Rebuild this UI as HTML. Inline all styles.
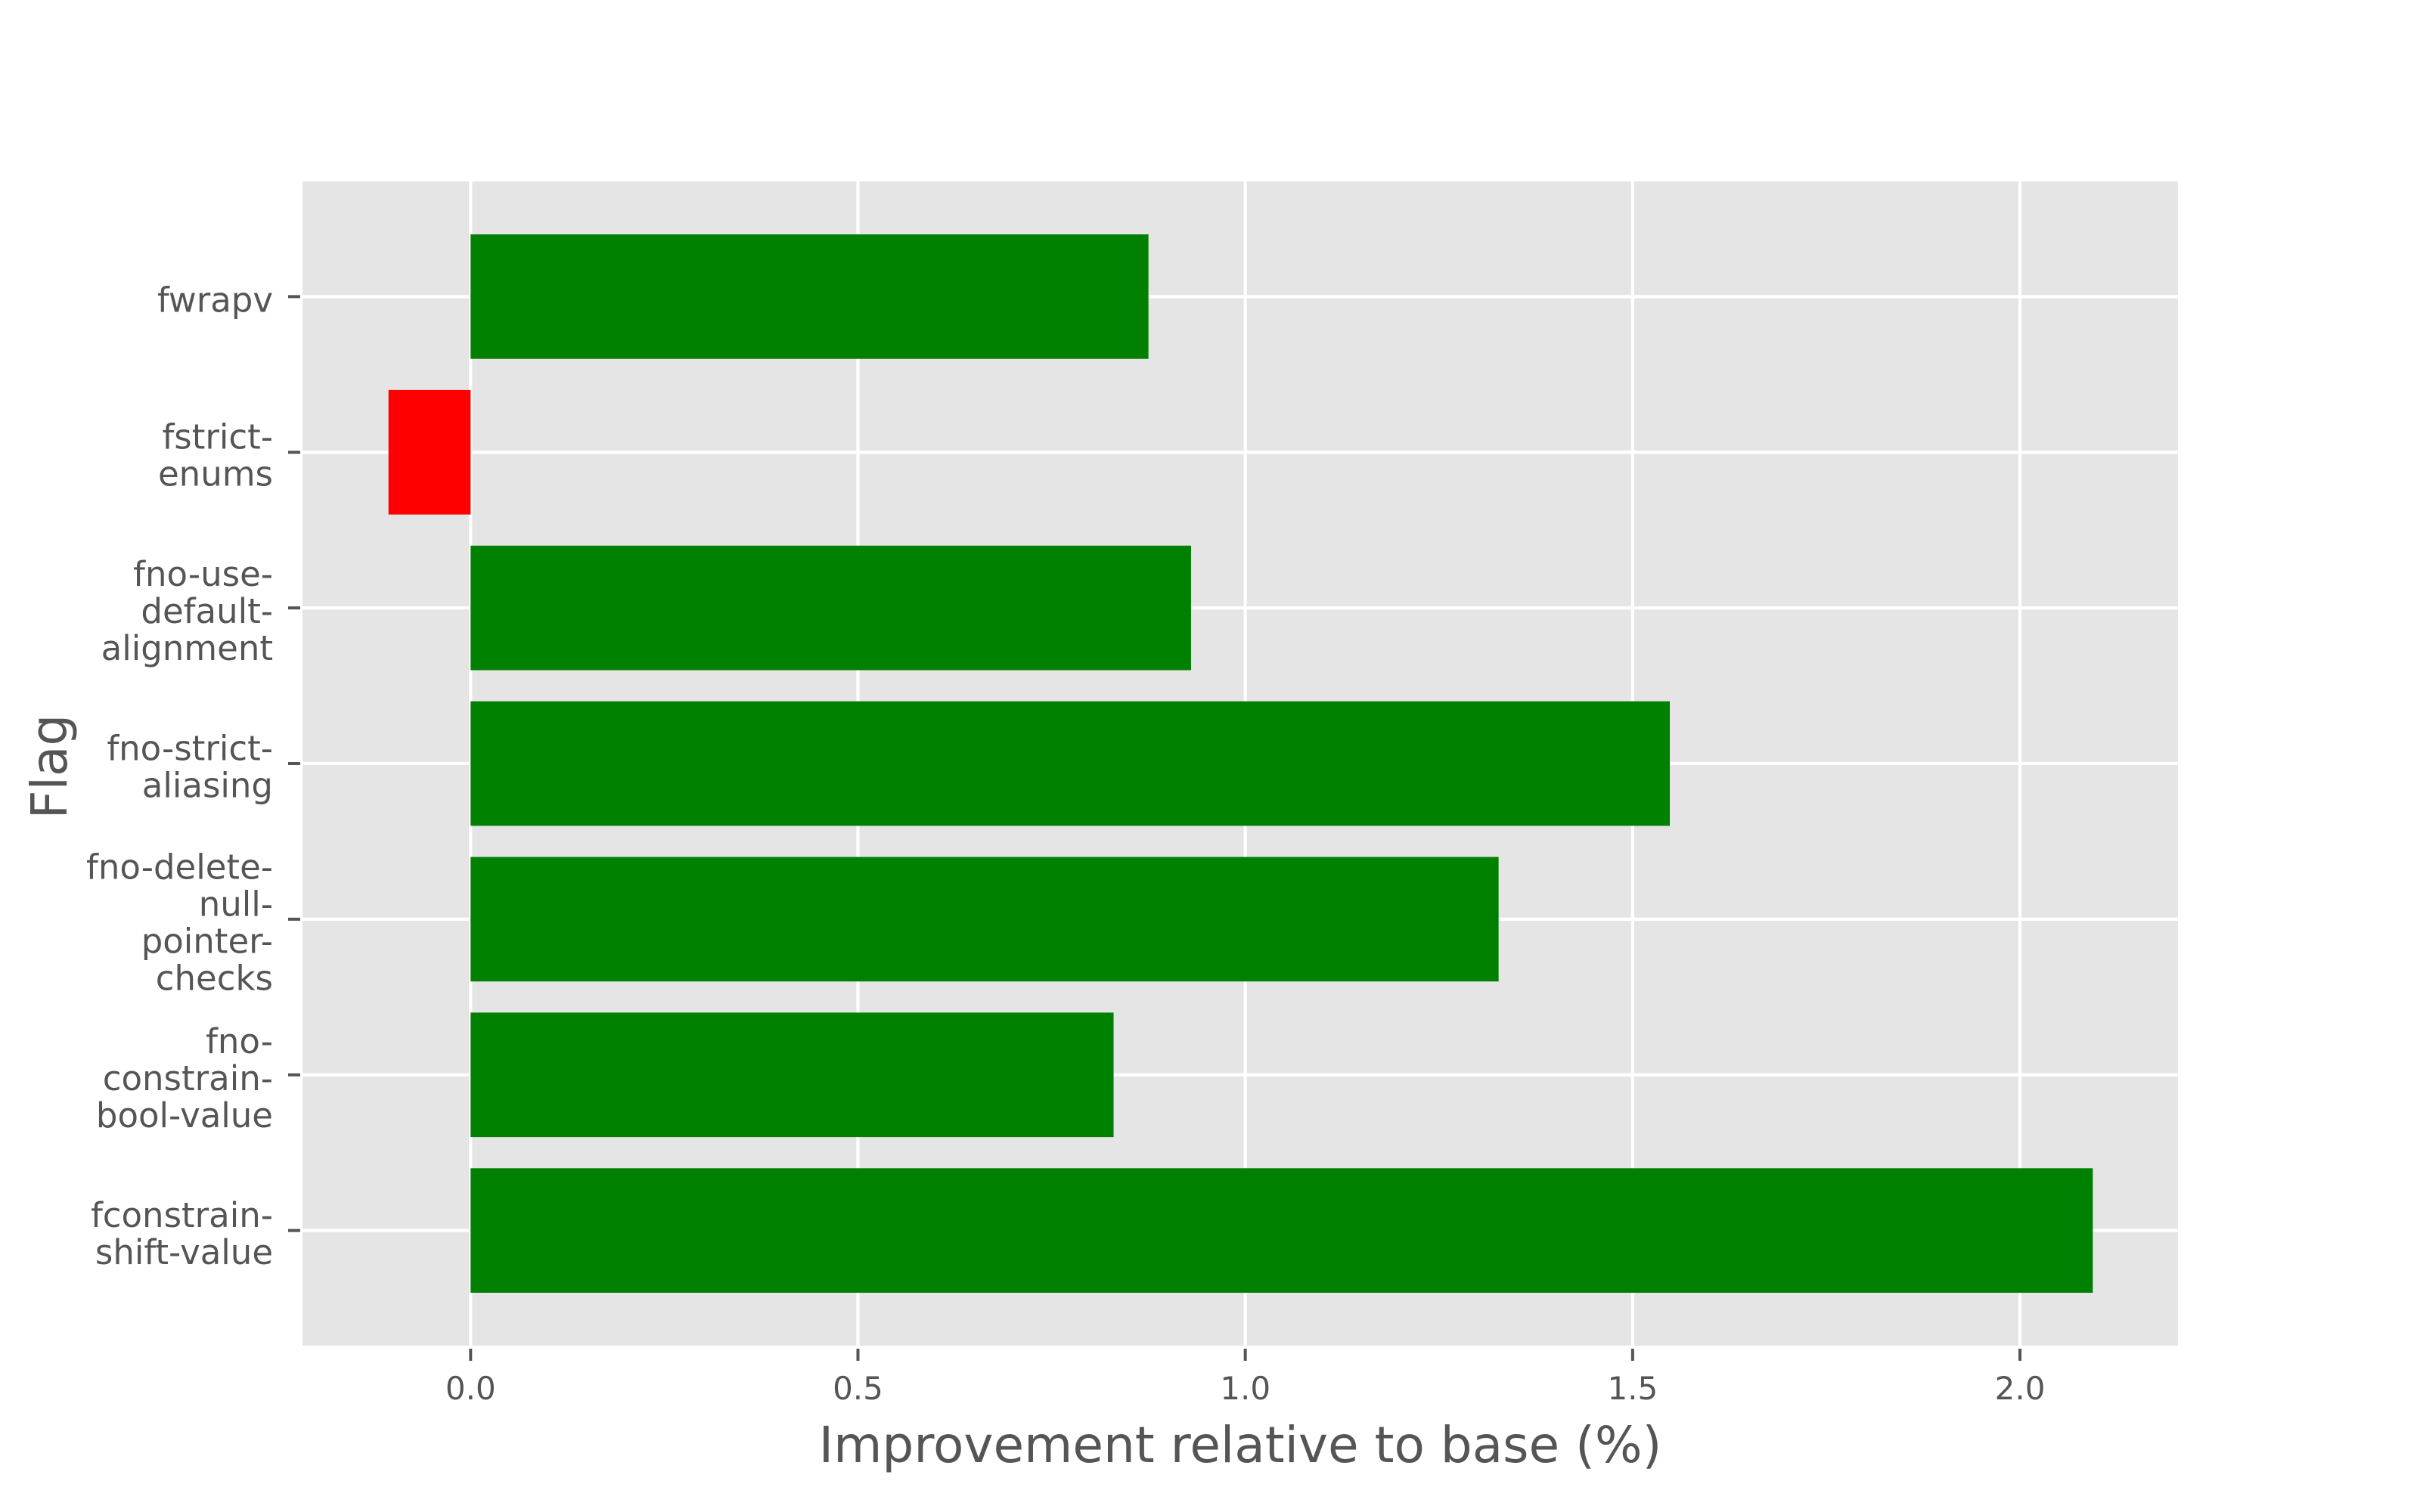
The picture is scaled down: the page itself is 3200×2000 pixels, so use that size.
<!DOCTYPE html>
<html><head><meta charset="utf-8"><style>
html,body{margin:0;padding:0;background:#fff;}
svg{display:block;font-family:"DejaVu Sans","Liberation Sans",sans-serif;}
</style></head><body>
<svg id="chart" width="3200" height="2000" viewBox="0 0 3200 2000" xmlns="http://www.w3.org/2000/svg">
<rect x="400" y="240" width="2480" height="1540" fill="#E5E5E5"/>
<g id="grid"></g>
<g id="bars"></g>
<g id="xticks"></g>
<g id="yticks"></g>
<text x="1640" y="1934" font-size="66" fill="#555" text-anchor="middle">Improvement relative to base (%)</text>
<text x="0" y="0" font-size="66" fill="#555" text-anchor="middle" transform="translate(88,1014) rotate(-90)">Flag</text>
</svg>
<script>
const categories = [["fconstrain-","shift-value"],["fno-","constrain-","bool-value"],["fno-delete-","null-","pointer-","checks"],["fno-strict-","aliasing"],["fno-use-","default-","alignment"],["fstrict-","enums"],["fwrapv"]];
const values = [2.094, 0.83, 1.327, 1.548, 0.93, -0.106, 0.875];
const xTicks = [0.0, 0.5, 1.0, 1.5, 2.0];
const xTickLabels = ["0.0","0.5","1.0","1.5","2.0"];

const NS = "http://www.w3.org/2000/svg";
const L = 400, R = 2880, T = 240, B = 1780;
const xmin = -0.217, xmax = 2.204, ymin = -0.74, ymax = 6.74;
const xs = v => L + (v - xmin) / (xmax - xmin) * (R - L);
const ys = v => B - (v - ymin) / (ymax - ymin) * (B - T);
function mk(tag, attrs, parent){ const e=document.createElementNS(NS,tag); for(const k in attrs) e.setAttribute(k,attrs[k]); parent.appendChild(e); return e; }
const grid=document.getElementById('grid'), bars=document.getElementById('bars'), xt=document.getElementById('xticks'), yt=document.getElementById('yticks');

xTicks.forEach((t,i)=>{
  const x=xs(t);
  const g=mk('line',{x1:x,x2:x,y1:T,y2:B,stroke:'#fff','stroke-width':4.2},grid);
  
  
  const tk=mk('line',{x1:x,x2:x,y1:B+4,y2:B+20,stroke:'#555','stroke-width':4},xt);
  
  
  const tl=mk('text',{x:x,y:1851,'font-size':42,fill:'#555','text-anchor':'middle'},xt);
  tl.textContent=xTickLabels[i];
  
  
});
categories.forEach((lines,i)=>{
  const y=ys(i);
  const g=mk('line',{x1:L,x2:R,y1:y,y2:y,stroke:'#fff','stroke-width':4.2},grid);
  
  
  const tk=mk('line',{x1:381,x2:397,y1:y,y2:y,stroke:'#555','stroke-width':4},yt);
  
  
  const lh=49, n=lines.length;
  const tl=mk('text',{x:361,'font-size':45,fill:'#555','text-anchor':'end'},yt);
  
  
  lines.forEach((s,j)=>{
    const sp=mk('tspan',{x:361,y:y-(n-1)*lh/2+j*lh+20},tl);
    sp.textContent=s;
  });
  const v=values[i];
  const x0=xs(Math.min(0,v)), x1=xs(Math.max(0,v));
  const h=0.8*(ys(0)-ys(1));
  const b=mk('rect',{x:x0,y:y-h/2,width:x1-x0,height:h,fill:v<0?'#FF0000':'#008000'},bars);
  
  
});
</script>
</body></html>
